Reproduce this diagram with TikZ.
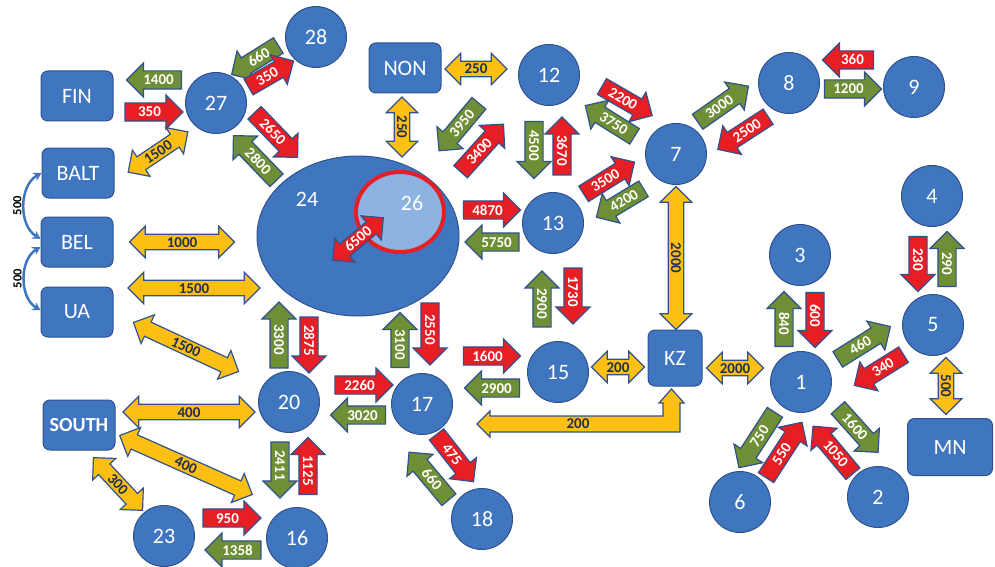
\documentclass[tikz,border=0pt]{standalone}
\usepackage{fontspec}
\setmainfont{Carlito}
\usetikzlibrary{shapes.arrows,shapes.geometric,arrows.meta}
\definecolor{nodeblue}{HTML}{3F76BF}
\definecolor{edgeblue}{HTML}{2F528F}
\definecolor{lightblue}{HTML}{8DB3E2}
\definecolor{flowred}{HTML}{E81E25}
\definecolor{flowgreen}{HTML}{6E8F35}
\definecolor{flowyellow}{HTML}{FDBF12}
\definecolor{labelnavy}{HTML}{1F3050}
\tikzset{
  region/.style={circle, draw=edgeblue, line width=1pt, fill=nodeblue, text=white,
    minimum size=61pt, inner sep=0pt, font=\fontsize{22}{22}\selectfont},
  country/.style={rectangle, rounded corners=7pt, draw=edgeblue, line width=1pt,
    fill=nodeblue, text=white, minimum width=72pt, minimum height=50pt,
    font=\fontsize{22}{22}\selectfont},
  % single arrows: the shape sits 4.5pt ahead of its centre, so pull it back
  flow/.style={single arrow, single arrow head extend=8pt, single arrow tip angle=90,
    single arrow head indent=0pt, draw=edgeblue, line width=1.2pt, text=white,
    text height=10pt, text depth=0pt, inner ysep=3.5pt, inner xsep=1pt,
    font=\fontsize{15}{15}\bfseries\selectfont, xshift=-4.5pt},
  export/.style={flow, fill=flowred},
  import/.style={flow, fill=flowgreen},
  back/.style={shape border rotate=180, xshift=9pt},
  transit/.style={double arrow, double arrow head extend=8pt, double arrow tip angle=90,
    draw=edgeblue, line width=1.2pt, fill=flowyellow, text=labelnavy,
    text height=10pt, text depth=0pt, inner ysep=2.2pt, inner xsep=1pt,
    font=\fontsize{15}{15}\bfseries\selectfont},
  link/.style={draw=nodeblue, line width=2.5pt,
    {Stealth[length=8pt,width=9pt]}-{Stealth[length=8pt,width=9pt]}},
  linklabel/.style={midway, rotate=90, anchor=south, inner sep=1.5pt, text=black,
    font=\fontsize{12.5}{12.5}\bfseries\selectfont},
}
\begin{document}
\begin{tikzpicture}[x=1pt, y=-1pt]
  \useasboundingbox (0,0) rectangle (995,567);
  % countries
  \node[country] (fin) at (77,96) {FIN};
  \node[country] (balt) at (78,173) {BALT};
  \node[country] (bel) at (77,242) {BEL};
  \node[country] (ua) at (77,312) {UA};
  \node[country, font=\fontsize{20}{20}\bfseries\selectfont] (south) at (79,425) {SOUTH};
  \node[country] (non) at (405,68) {NON};
  \node[country, minimum width=54pt, minimum height=56pt] (kz) at (675,358) {KZ};
  \node[country, minimum width=85pt, minimum height=57pt] (mn) at (950,447) {MN};
  % big region with 26 inside
  \node[ellipse, draw=edgeblue, line width=1pt, fill=nodeblue, minimum width=202pt,
    minimum height=160pt] (n24) at (358,236) {};
  \node[ellipse, draw=flowred, line width=4pt, fill=lightblue, minimum width=88pt,
    minimum height=80pt] (n26) at (400,212) {};
  \node[text=white, font=\fontsize{22}{22}\selectfont] (t24) at (307,199) {24};
  \node[text=white, font=\fontsize{22}{22}\selectfont] (t26) at (412,203) {26};
  % regions
  \node[region] (n27) at (216,103) {27};
  \node[region] (n28) at (316,37) {28};
  \node[region] (n12) at (549,75) {12};
  \node[region] (n13) at (553,223) {13};
  \node[region] (n7) at (676,154) {7};
  \node[region] (n8) at (789,83) {8};
  \node[region] (n9) at (914,87) {9};
  \node[region] (n4) at (932,196) {4};
  \node[region] (n3) at (800,255) {3};
  \node[region] (n5) at (933,325) {5};
  \node[region] (n1) at (801,382) {1};
  \node[region] (n6) at (740,502) {6};
  \node[region] (n2) at (878,497) {2};
  \node[region] (n15) at (558,372) {15};
  \node[region] (n17) at (422,404) {17};
  \node[region] (n18) at (482,519) {18};
  \node[region] (n20) at (289,402) {20};
  \node[region] (n16) at (297,538) {16};
  \node[region] (n23) at (164,536) {23};
  % links on the left
  \draw[link] (balt.west) to[bend right=60] node[linklabel] (l500a) {500} (bel.175);
  \draw[link] (bel.188) to[bend right=60] node[linklabel] (l500b) {500} (ua.177);
  % transit flows
  \node[rotate=34, transit, minimum height=72pt] (y1500a) at (158,152) {1500};
  \node[transit, minimum height=62pt] (y250a) at (476,69) {250};
  \node[rotate=-90, transit, minimum height=60pt] (y250b) at (402,127) {250};
  \node[transit, minimum height=105pt] (y1000) at (182,242) {1000};
  \node[transit, minimum height=132pt] (y1500b) at (194,288) {1500};
  \node[rotate=-25, transit, minimum height=116pt] (y1500c) at (186,347) {1500};
  \node[transit, minimum height=53pt] (y200a) at (618,367) {200};
  \node[rotate=-90, transit, minimum height=143pt] (y2000a) at (676,258) {2000};
  \node[transit, minimum height=57pt] (y2000b) at (735,368) {2000};
  \node[rotate=-90, transit, minimum height=57pt] (y500) at (946,386) {500};
  \node[transit, minimum height=132pt] (y400a) at (189,412) {400};
  \node[rotate=-24, transit, minimum height=145pt] (y400b) at (186,465) {400};
  \node[rotate=-47, transit, minimum height=72pt] (y300) at (118,484) {300};
  \node[rotate=40, transit, fill=flowred, text=white, minimum height=66pt] (r6500) at (358,239) {6500};
  \draw[draw=edgeblue, line width=1.2pt, fill=flowyellow]
    (477,424) -- (490,411) -- (490,416) -- (663,416) -- (663,403) -- (659,403)
    -- (671.5,389) -- (684,403) -- (680,403) -- (680,432) -- (490,432)
    -- (490,437) -- cycle;
  \node[text=labelnavy, font=\fontsize{15}{15}\bfseries\selectfont] (y200b) at (578,424) {200};
  % export and import flows
  \node[import, back, minimum height=55pt] (g1400) at (154,80) {1400};
  \node[export, minimum height=58pt] (r350a) at (154,112) {350};
  \node[rotate=32, import, back, minimum height=55pt] (g660a) at (255,60) {660};
  \node[rotate=30, export, minimum height=52pt] (r350b) at (271,74) {350};
  \node[rotate=-46, export, minimum height=62pt] (r2650) at (276,135) {2650};
  \node[rotate=-46, import, back, minimum height=62pt] (g2800) at (255,158) {2800};
  \node[rotate=50, import, back, minimum height=62pt] (g3950) at (459,127) {3950};
  \node[rotate=48, export, minimum height=64pt] (r3400) at (482,148) {3400};
  \node[rotate=-90, import, minimum height=57pt] (g4500) at (534,150) {4500};
  \node[rotate=-90, export, back, minimum height=58pt] (r3670) at (562,146) {3670};
  \node[rotate=-30, export, minimum height=58pt] (r2200) at (627,101) {2200};
  \node[rotate=-32, import, back, minimum height=58pt] (g3750) at (610,121) {3750};
  \node[rotate=32, export, minimum height=60pt] (r3500) at (609,178) {3500};
  \node[rotate=31, import, back, minimum height=55pt] (g4200) at (620,203) {4200};
  \node[rotate=35, import, minimum height=62pt] (g3000) at (723,104) {3000};
  \node[rotate=33, export, back, minimum height=60pt] (r2500) at (743,133) {2500};
  \node[export, back, minimum height=51pt] (r360) at (848,60) {360};
  \node[import, minimum height=57pt] (g1200) at (853,89) {1200};
  \node[rotate=-90, import, back, minimum height=66pt] (g3300) at (279,335) {3300};
  \node[rotate=-90, export, minimum height=56pt] (r2875) at (309,345) {2875};
  \node[export, minimum height=57pt] (r4870) at (492,210) {4870};
  \node[import, back, minimum height=54pt] (g5750) at (492,242) {5750};
  \node[rotate=-90, import, back, minimum height=56pt] (g2900a) at (542,299) {2900};
  \node[rotate=-90, export, minimum height=56pt] (r1730) at (573,296) {1730};
  \node[rotate=-90, import, back, minimum height=55pt] (g3100) at (400,340) {3100};
  \node[rotate=-90, export, minimum height=62pt] (r2550) at (430,334) {2550};
  \node[export, minimum height=57pt] (r1600) at (492,356) {1600};
  \node[rotate=-90, import, back, minimum height=55pt] (g840) at (784,319) {840};
  \node[rotate=-90, export, minimum height=55pt] (r600) at (815,320) {600};
  \node[rotate=-90, export, minimum height=55pt] (r230) at (918,264) {230};
  \node[rotate=-90, import, back, minimum height=55pt] (g290) at (947,259) {290};
  \node[rotate=32, import, minimum height=62pt] (g460) at (864,343) {460};
  \node[rotate=32, export, back, minimum height=58pt] (r340) at (879,370) {340};
  \node[rotate=57, import, back, minimum height=66pt] (g750) at (757,440) {750};
  \node[rotate=57, export, minimum height=66pt] (r550) at (784,450) {550};
  \node[rotate=-50, export, back, minimum height=62pt] (r1050) at (833,450) {1050};
  \node[rotate=-48, import, minimum height=60pt] (g1600) at (858,430) {1600};
  \node[rotate=-90, import, minimum height=56pt] (g2411) at (280,470) {2411};
  \node[rotate=-90, export, back, minimum height=57pt] (r1125) at (308,466) {1125};
  \node[export, minimum height=58pt] (r950) at (232,518) {950};
  \node[import, back, minimum height=56pt] (g1358) at (233,550) {1358};
  \node[export, minimum height=58pt] (r2260) at (364,385) {2260};
  \node[import, back, minimum height=55pt] (g3020) at (358,415) {3020};
  \node[import, back, minimum height=55pt] (g2900b) at (492,388) {2900};
  \node[rotate=-52, export, minimum height=60pt] (r475) at (455,458) {475};
  \node[rotate=-50, import, back, minimum height=62pt] (g660b) at (429,476) {660};
\end{tikzpicture}
\end{document}
